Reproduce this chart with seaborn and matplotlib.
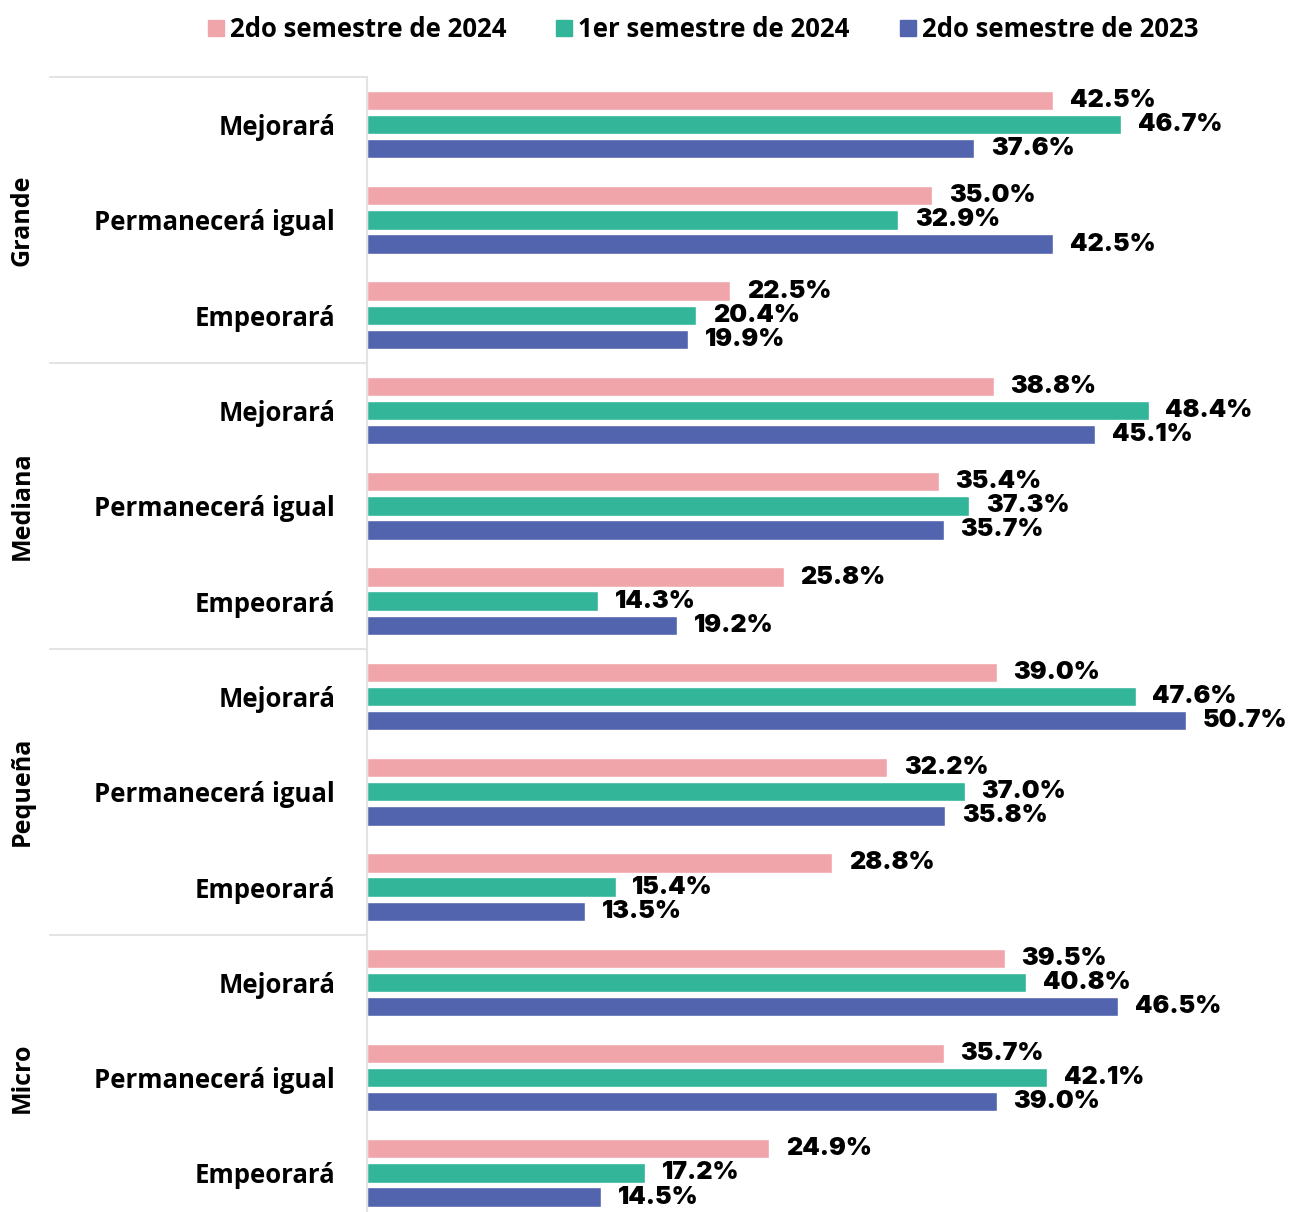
import pandas as pd
import matplotlib.pyplot as plt
import seaborn as sns
from matplotlib.lines import Line2D

# ---------------- DATA ----------------
groups = ["Grande", "Mediana", "Pequeña", "Micro"]
options = ["Mejorará", "Permanecerá igual", "Empeorará"]
periods = ["2do semestre de 2024", "1er semestre de 2024", "2do semestre de 2023"]

s2_2024 = [42.5, 35.0, 22.5, 38.8, 35.4, 25.8, 39.0, 32.2, 28.8, 39.5, 35.7, 24.9]
s1_2024 = [46.7, 32.9, 20.4, 48.4, 37.3, 14.3, 47.6, 37.0, 15.4, 40.8, 42.1, 17.2]
s2_2023 = [37.6, 42.5, 19.9, 45.1, 35.7, 19.2, 50.7, 35.8, 13.5, 46.5, 39.0, 14.5]

colors = ["#F0A5AB", "#33B59A", "#5264AE"]

# ---------------- LONG TABLE ----------------
keys = [f"{g}|{o}" for g in groups for o in options]
rows = []
for series, period in zip([s2_2024, s1_2024, s2_2023], periods):
    for k, v in zip(keys, series):
        rows.append({"cat": k, "period": period, "value": v})
df = pd.DataFrame(rows)

sns.set_theme(style="white")
plt.rcParams["font.family"] = ["Open Sans", "DejaVu Sans"]
plt.rcParams["text.color"] = "black"

fig = plt.figure(figsize=(12.89, 12.12), dpi=100)
# axes runs a little past the bottom edge, as in the original
ax_h = 12 * 95.3
ax = fig.add_axes([367 / 1289, 1 - (77 + ax_h) / 1212, 922 / 1289, ax_h / 1212])

sns.barplot(data=df, y="cat", x="value", hue="period", order=keys,
            hue_order=periods, palette=colors, saturation=1, orient="h",
            width=0.76, gap=0.2, legend=False, ax=ax)

ax.set_xlim(0, 922 / 16.15)
ax.set_ylim(11.5, -0.5)
ax.set_xlabel("")
ax.set_ylabel("")
ax.set_xticks([])
ax.set_yticks(range(len(keys)))
ax.set_yticklabels([k.split("|")[1] for k in keys], fontsize=18.5,
                   fontweight="bold", color="black")
ax.tick_params(axis="y", length=0, pad=23)

for side in ["top", "right", "bottom"]:
    ax.spines[side].set_visible(False)
ax.spines["left"].set_color("#E3E3E3")
ax.spines["left"].set_linewidth(1.5)

# value labels
for cont in ax.containers:
    ax.bar_label(cont, labels=[f"{b.get_width():.1f}%" for b in cont],
                 padding=12, fontsize=18, fontweight="black", color="black",
                 family=["Inter", "DejaVu Sans"])

# group separators and group names
trans = ax.get_yaxis_transform()
left = (50 - 367) / 922
for i, g in enumerate(groups):
    y0 = i * 3 - 0.5
    ax.add_line(Line2D([left, 0], [y0, y0], transform=trans, color="#E3E3E3",
                       lw=1.5, clip_on=False))
    ax.text((22 - 367) / 922, i * 3 + 1, g, transform=trans, rotation=90,
            ha="center", va="center", fontsize=18, fontweight="bold",
            color="black")

# legend
handles = [Line2D([], [], marker="s", linestyle="", markersize=11,
                  markerfacecolor=c, markeredgecolor=c) for c in colors]
fig.legend(handles, periods, loc="upper center", bbox_to_anchor=(0.543, 1.006),
           ncol=3, frameon=False, handletextpad=0.0, columnspacing=1.7,
           handlelength=1.1, prop={"size": 18.5, "weight": "bold"})

fig.savefig("out.png", dpi=100)
